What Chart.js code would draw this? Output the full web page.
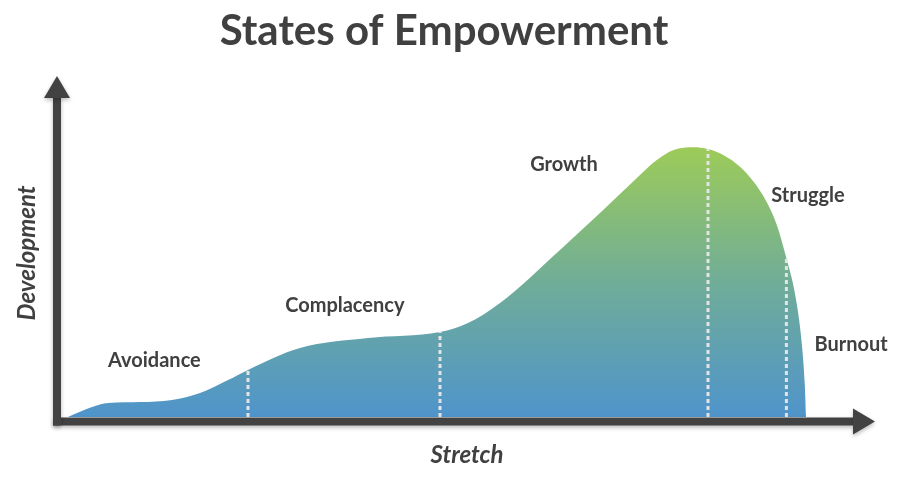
<!DOCTYPE html>
<html lang="en">
<head>
    <meta charset="UTF-8">
    <title>States of Empowerment</title>
    <style>
        body {
            margin: 0;
            padding: 0;
            background: #ffffff;
        }

        #chartContainer {
            width: 920px;
            height: 480px;
        }
    </style>
    <script src="https://cdn.jsdelivr.net/npm/chart.js"></script>
</head>
<body>
    <div id="chartContainer">
        <canvas id="empowermentChart" width="920" height="480"></canvas>
    </div>

    <script>
        // curve of development against stretch (both 0..100)
        const stretch = [1, 4, 6, 10, 14, 17.5, 21, 23.5, 30, 38.5, 47.5, 51, 55, 62.5, 67.5, 72.5, 74.6, 76.7, 79.2, 81, 82.9, 85, 86.7, 88.3, 89.6, 90.8, 91.9, 92.7, 93.1, 93.25];
        const development = [0, 3.3, 4.7, 5, 5.7, 8, 12.3, 15.7, 23, 26.3, 28.3, 31.3, 38, 55.7, 68, 80.7, 85.7, 89, 89.9, 89.3, 87.3, 83.4, 78.4, 71.8, 64, 52.9, 40.7, 25.1, 10.7, 0];

        // points of the curve where one state turns into the next
        const dividerIndex = [7, 10, 19, 25];

        const stageNames = ['Avoidance', 'Complacency', 'Growth', 'Struggle', 'Burnout'];
        const stageX = [11.8, 35.6, 63, 93.5, 98.9];
        const stageY = [16.8, 35, 82, 71.8, 22];

        const chartTitle = 'States of Empowerment';
        const xTitle = 'Stretch';
        const yTitle = 'Development';

        const textColor = '#404040';
        const axisColor = '#424242';

        function areaGradient(context) {
            const chart = context.chart;
            const { ctx, chartArea, scales } = chart;
            if (!chartArea) {
                return null;
            }
            const top = scales.y.getPixelForValue(Math.max(...development));
            const g = ctx.createLinearGradient(0, chartArea.bottom, 0, top);
            g.addColorStop(0, '#4f94cb');
            g.addColorStop(0.5, '#70ad98');
            g.addColorStop(1, '#9dcb58');
            return g;
        }

        const curve = {
            label: 'Development',
            data: stretch.map((x, i) => ({ x: x, y: development[i] })),
            borderWidth: 0,
            borderColor: 'rgba(0,0,0,0)',
            backgroundColor: areaGradient,
            fill: 'origin',
            pointRadius: 0,
            cubicInterpolationMode: 'monotone',
            order: 2
        };

        const dividers = dividerIndex.map(i => ({
            label: 'divider',
            data: [{ x: stretch[i], y: 0 }, { x: stretch[i], y: development[i] }],
            borderColor: '#e4e4e4',
            borderWidth: 3,
            borderDash: [4, 3],
            pointRadius: 0,
            fill: false,
            order: 1
        }));

        // axes with arrow heads, titles and stage names
        const decorations = {
            id: 'decorations',
            afterDatasetsDraw(chart) {
                const { ctx, chartArea, scales } = chart;
                const ax = chartArea.left - 3;
                const ay = chartArea.bottom + 4.5;
                const w = 8;

                ctx.save();
                ctx.fillStyle = axisColor;
                ctx.shadowColor = 'rgba(0,0,0,0.28)';
                ctx.shadowBlur = 4;
                ctx.shadowOffsetY = 2;

                // x axis
                ctx.fillRect(ax - w / 2, ay - w / 2, 853 - (ax - w / 2), w);
                ctx.beginPath();
                ctx.moveTo(853, ay - 13);
                ctx.lineTo(875, ay);
                ctx.lineTo(853, ay + 13);
                ctx.closePath();
                ctx.fill();

                // y axis
                ctx.fillRect(ax - w / 2, 97, w, ay + w / 2 - 97);
                ctx.beginPath();
                ctx.moveTo(ax - 13, 98);
                ctx.lineTo(ax, 76);
                ctx.lineTo(ax + 13, 98);
                ctx.closePath();
                ctx.fill();
                ctx.restore();

                ctx.save();
                ctx.fillStyle = textColor;
                ctx.textAlign = 'center';
                ctx.textBaseline = 'alphabetic';

                ctx.font = 'bold 42px Lato';
                ctx.fillText(chartTitle, 444, 45);

                ctx.font = 'italic bold 24px Lato';
                ctx.fillText(xTitle, 467, 463);
                ctx.save();
                ctx.translate(35, 253);
                ctx.rotate(-Math.PI / 2);
                ctx.fillText(yTitle, 0, 0);
                ctx.restore();

                ctx.font = 'bold 20px Lato';
                stageNames.forEach((name, i) => {
                    const px = scales.x.getPixelForValue(stageX[i]);
                    const py = scales.y.getPixelForValue(stageY[i]);
                    ctx.fillText(name, px, py);
                });
                ctx.restore();
            }
        };

        const ctx = document.getElementById('empowermentChart').getContext('2d');
        const chart = new Chart(ctx, {
            type: 'line',
            data: {
                datasets: [curve].concat(dividers)
            },
            options: {
                responsive: false,
                animation: false,
                layout: {
                    padding: { left: 60, right: 60, top: 117, bottom: 63 }
                },
                plugins: {
                    legend: { display: false },
                    tooltip: { enabled: false }
                },
                scales: {
                    x: {
                        type: 'linear',
                        min: 0,
                        max: 100,
                        display: false
                    },
                    y: {
                        min: 0,
                        max: 100,
                        display: false
                    }
                }
            },
            plugins: [decorations]
        });
    </script>
</body>
</html>
